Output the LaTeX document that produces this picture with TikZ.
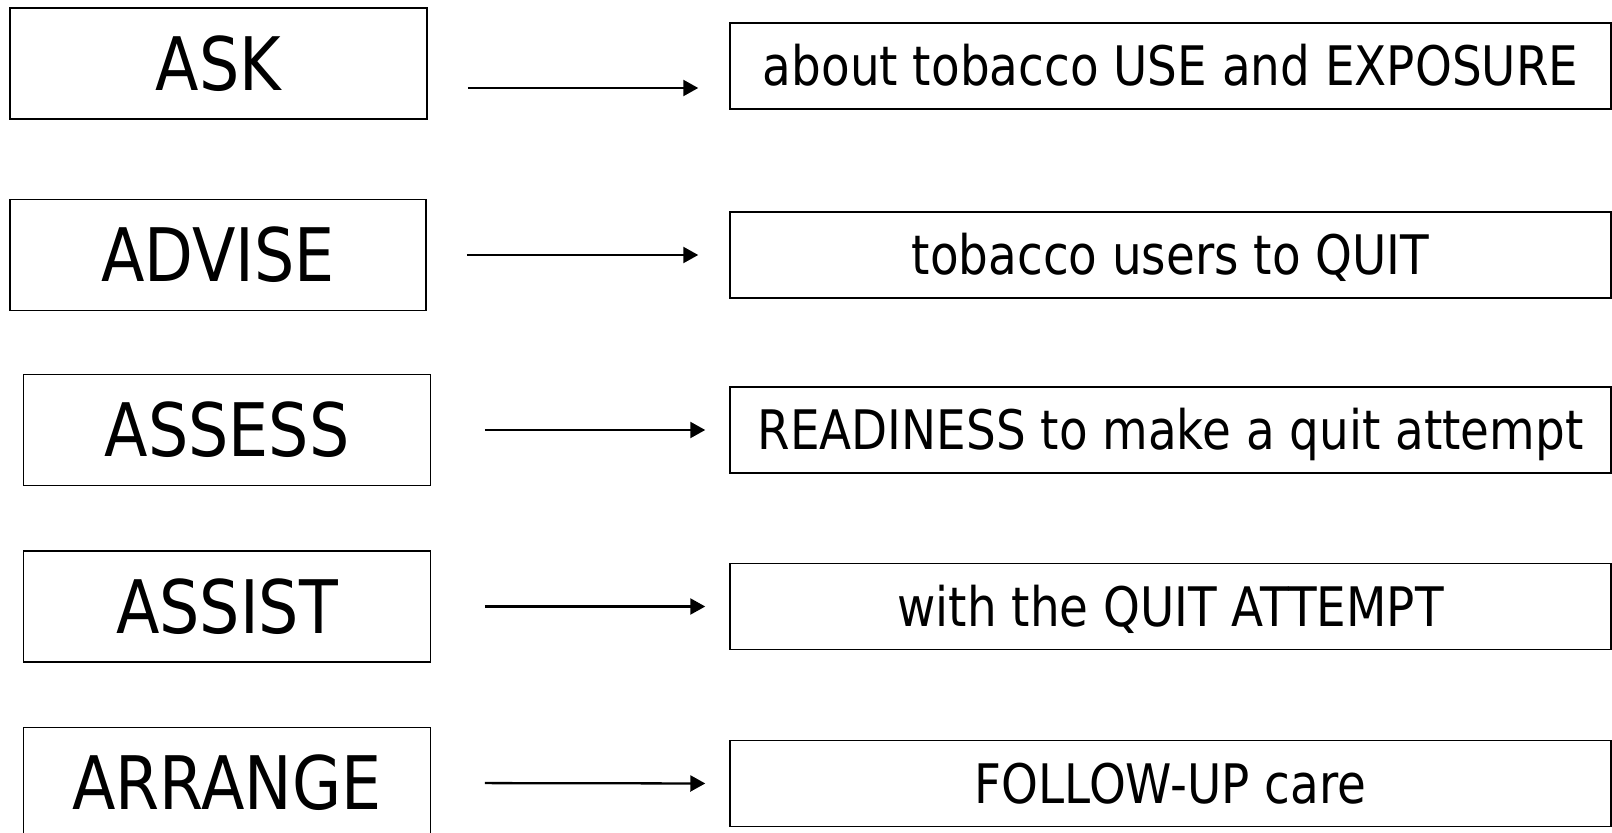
\documentclass[tikz,border=0pt]{standalone}
\usepackage{fontspec}
\setmainfont[FakeStretch=0.86]{DejaVu Sans}
\usetikzlibrary{arrows.meta, positioning}
\tikzset{
    box_step/.style={
        rectangle, draw=black, line width=0.85pt, fill=white,
        minimum width=8.14cm, minimum height=2.22cm,
        font=\fontsize{42}{50}\selectfont,
        text height=30.6pt, text depth=0pt
    },
    box_action/.style={
        rectangle, draw=black, line width=0.85pt, fill=white,
        minimum width=17.62cm, minimum height=1.72cm,
        font=\fontsize{31}{37}\selectfont,
        text height=22.6pt, text depth=0pt
    },
    step_arrow/.style={
        -{Triangle[length=0.3cm, width=0.32cm]}, line width=1.3pt, draw=black
    }
}
\begin{document}
\begin{tikzpicture}
\useasboundingbox (0, 0) rectangle (32.24, -16.66);
\clip (0, 0) rectangle (32.24, -16.66);

% the five steps
\node[box_step, minimum width=8.34cm] (ask) at (4.37, -1.27) {ASK};
\node[box_step, minimum width=8.32cm] (advise) at (4.36, -5.10) {ADVISE};
\node[box_step] (assess) at (4.54, -8.60) {ASSESS};
\node[box_step] (assist) at (4.54, -12.13) {ASSIST};
\node[box_step] (arrange) at (4.54, -15.66) {ARRANGE};

% what each step is about
\node[box_action] (use) at (23.41, -1.32) {about tobacco USE and EXPOSURE};
\node[box_action] (quit) at (23.41, -5.10) {tobacco users to QUIT};
\node[box_action] (ready) at (23.41, -8.60) {READINESS to make a quit attempt};
\node[box_action] (attempt) at (23.41, -12.13) {with the QUIT ATTEMPT};
\node[box_action] (followup) at (23.41, -15.67) {FOLLOW-UP care};

\draw[step_arrow, shorten <=0.80cm, shorten >=0.62cm] ([yshift=-0.49cm]ask.east) -- ([yshift=-0.49cm]ask.east -| use.west);
\draw[step_arrow, shorten <=0.80cm, shorten >=0.62cm] (advise.east) -- (quit.west);
\draw[step_arrow, shorten <=1.07cm, shorten >=0.48cm] (assess.east) -- (ready.west);
\draw[step_arrow, shorten <=1.07cm, shorten >=0.48cm] (assist.east) -- (attempt.west);
\draw[step_arrow, shorten <=1.07cm, shorten >=0.48cm] (arrange.east) -- (followup.west);
\end{tikzpicture}
\end{document}
